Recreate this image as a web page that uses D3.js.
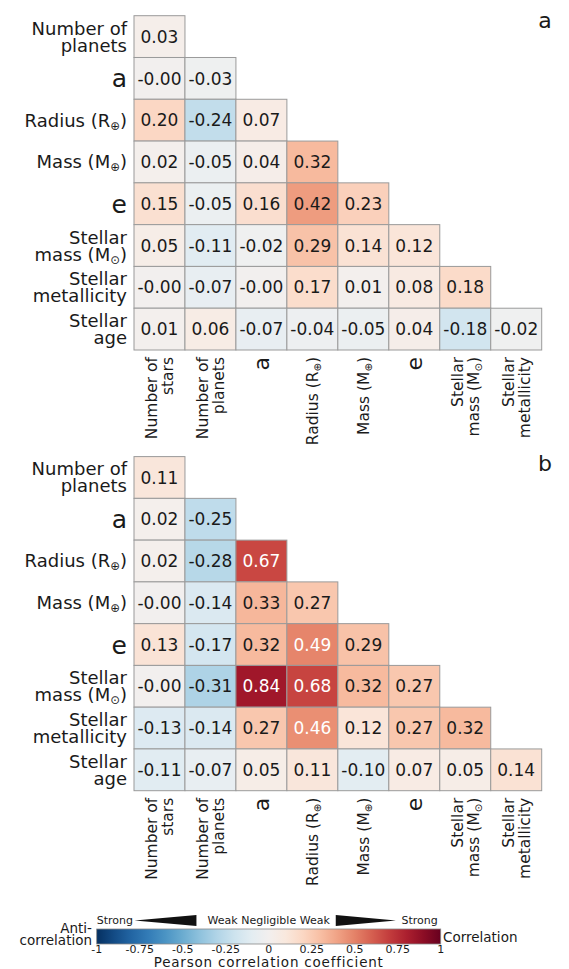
<!DOCTYPE html>
<html>
<head>
    <title>Correlation matrices</title>
    <style>
        body { margin: 0; background: #fff; }
        svg text { font-family: "DejaVu Sans", sans-serif; fill: #1a1a1a; }
        .cell { stroke: #9a9a9a; stroke-width: 1; }
        .val { font-size: 17px; }
        .rowlab { font-size: 18px; }
        .collab { font-size: 15.5px; }
        .panel { font-size: 22px; }
        .cb-small { font-size: 11px; }
        .cb-mid { font-size: 13.5px; }
    </style>
</head>
<body>
    <svg id="chart" width="569" height="969"></svg>

    <script src="https://d3js.org/d3.v7.min.js"></script>
    <script>
        // labels; {..} marks a subscript
        const rowLabels = [
            ["Number of", "planets"], ["a"], ["Radius (R{⊕})"], ["Mass (M{⊕})"],
            ["e"], ["Stellar", "mass (M{⊙})"], ["Stellar", "metallicity"], ["Stellar", "age"]
        ];
        const colLabels = [
            ["Number of", "stars"], ["Number of", "planets"], ["a"], ["Radius (R{⊕})"],
            ["Mass (M{⊕})"], ["e"], ["Stellar", "mass (M{⊙})"], ["Stellar", "metallicity"]
        ];

        // lower triangle, row by row (as printed)
        const valuesA = [
            ["0.03"],
            ["-0.00", "-0.03"],
            ["0.20", "-0.24", "0.07"],
            ["0.02", "-0.05", "0.04", "0.32"],
            ["0.15", "-0.05", "0.16", "0.42", "0.23"],
            ["0.05", "-0.11", "-0.02", "0.29", "0.14", "0.12"],
            ["-0.00", "-0.07", "-0.00", "0.17", "0.01", "0.08", "0.18"],
            ["0.01", "0.06", "-0.07", "-0.04", "-0.05", "0.04", "-0.18", "-0.02"]
        ];
        const valuesB = [
            ["0.11"],
            ["0.02", "-0.25"],
            ["0.02", "-0.28", "0.67"],
            ["-0.00", "-0.14", "0.33", "0.27"],
            ["0.13", "-0.17", "0.32", "0.49", "0.29"],
            ["-0.00", "-0.31", "0.84", "0.68", "0.32", "0.27"],
            ["-0.13", "-0.14", "0.27", "0.46", "0.12", "0.27", "0.32"],
            ["-0.11", "-0.07", "0.05", "0.11", "-0.10", "0.07", "0.05", "0.14"]
        ];

        const cbTicks = [-1, -0.75, -0.5, -0.25, 0, 0.25, 0.5, 0.75, 1];
        const cbTickLabels = ["-1", "-0.75", "-0.5", "-0.25", "0", "0.25", "0.5", "0.75", "1"];
        const wedgeLeft = [-0.78, -0.42];
        const wedgeRight = [0.39, 0.74];

        const svg = d3.select('#chart');
        const color = d3.scaleDiverging([1, 0, -1], d3.interpolateRdBu);

        const x = d3.scaleBand().domain(d3.range(8)).range([134, 541.7]);

        // one <text> per label; each line is a tspan, {..} becomes a subscript
        function addLabel(t, lines, x0, bigSize, gap) {
            lines.forEach((str, k) => {
                const off = lines.length === 1 ? 0 : (k === 0 ? -gap / 2 : gap / 2);
                const line = t.append('tspan')
                    .attr('x', x0)
                    .attr('y', off)
                    .attr('dy', '0.36em');
                if (str.length === 1) {
                    line.style('font-size', bigSize + 'px').text(str);
                    return;
                }
                str.split(/(\{[^}]*\})/).forEach(part => {
                    if (!part) return;
                    if (part[0] === '{') {
                        line.append('tspan')
                            .attr('baseline-shift', '-25%')
                            .style('font-size', '0.65em')
                            .text(part.slice(1, -1));
                    } else {
                        line.append('tspan').text(part);
                    }
                });
            });
        }

        function drawPanel(values, top, bottom, tag, tagY) {
            const y = d3.scaleBand().domain(d3.range(8)).range([top, bottom]);
            const g = svg.append('g');

            const cells = [];
            values.forEach((row, i) => row.forEach((s, j) => cells.push({ i, j, s, v: +s })));

            g.selectAll('rect.cell')
                .data(cells)
                .enter().append('rect')
                .attr('class', 'cell')
                .attr('x', d => x(d.j))
                .attr('y', d => y(d.i))
                .attr('width', x.bandwidth())
                .attr('height', y.bandwidth())
                .attr('fill', d => color(d.v));

            g.selectAll('text.val')
                .data(cells)
                .enter().append('text')
                .attr('class', 'val')
                .attr('x', d => x(d.j) + x.bandwidth() / 2)
                .attr('y', d => y(d.i) + y.bandwidth() / 2)
                .attr('dy', '0.36em')
                .attr('text-anchor', 'middle')
                .style('fill', d => d.v > 0.44 ? '#fff' : '#1a1a1a')
                .text(d => d.s);

            // row labels
            rowLabels.forEach((lines, i) => {
                const t = g.append('text')
                    .attr('class', 'rowlab')
                    .attr('transform', `translate(127,${y(i) + y.bandwidth() / 2})`)
                    .attr('text-anchor', 'end');
                addLabel(t, lines, 0, 25, 17);
            });

            // column labels (rotated)
            colLabels.forEach((lines, j) => {
                const t = g.append('text')
                    .attr('class', 'collab')
                    .attr('transform', `translate(${x(j) + x.bandwidth() / 2},${bottom + 7}) rotate(-90)`)
                    .attr('text-anchor', 'end');
                addLabel(t, lines, 0, 22, 16.5);
            });

            g.append('text')
                .attr('class', 'panel')
                .attr('x', 545)
                .attr('y', tagY)
                .attr('text-anchor', 'middle')
                .text(tag);
        }

        drawPanel(valuesA, 15.7, 350, 'a', 28);
        drawPanel(valuesB, 456.6, 790.7, 'b', 471);

        // colour bar
        const cx = d3.scaleLinear().domain([-1, 1]).range([96.7, 440.7]);
        const cb = svg.append('g');
        const grad = svg.append('defs').append('linearGradient')
            .attr('id', 'cbgrad').attr('x1', '0%').attr('x2', '100%');
        d3.range(0, 21).forEach(k => {
            const v = -1 + k * 0.1;
            grad.append('stop').attr('offset', (k * 5) + '%').attr('stop-color', color(v));
        });
        cb.append('rect')
            .attr('x', cx(-1)).attr('y', 929)
            .attr('width', cx(1) - cx(-1)).attr('height', 15)
            .attr('fill', 'url(#cbgrad)')
            .attr('stroke', '#888').attr('stroke-width', 0.8);

        cb.selectAll('text.tick')
            .data(cbTicks)
            .enter().append('text')
            .attr('class', 'cb-small')
            .attr('x', d => cx(d))
            .attr('y', 953)
            .attr('text-anchor', 'middle')
            .text((d, i) => cbTickLabels[i]);

        cb.append('text')
            .attr('x', cx(0)).attr('y', 967)
            .attr('text-anchor', 'middle')
            .style('font-size', '13.5px')
            .style('letter-spacing', '0.8px')
            .text('Pearson correlation coefficient');

        const anti = cb.append('text').attr('class', 'cb-mid').attr('text-anchor', 'end');
        anti.append('tspan').attr('x', 92).attr('y', 932.5).text('Anti-');
        anti.append('tspan').attr('x', 92).attr('y', 945).text('correlation');
        cb.append('text').attr('class', 'cb-mid')
            .attr('x', 443).attr('y', 942).text('Correlation');

        // strength hints above the bar
        cb.append('text').attr('class', 'cb-small')
            .attr('x', cx(-1)).attr('y', 924).text('Strong');
        cb.append('text').attr('class', 'cb-small')
            .attr('x', cx(1) - 3).attr('y', 924).attr('text-anchor', 'end').text('Strong');
        cb.append('text').attr('class', 'cb-small')
            .attr('x', cx(0)).attr('y', 924).attr('text-anchor', 'middle').text('Weak Negligible Weak');
        cb.append('path')
            .attr('d', `M${cx(wedgeLeft[0])},920.5 L${cx(wedgeLeft[1])},915 L${cx(wedgeLeft[1])},926 Z`)
            .attr('fill', '#111');
        cb.append('path')
            .attr('d', `M${cx(wedgeRight[1])},920.5 L${cx(wedgeRight[0])},915 L${cx(wedgeRight[0])},926 Z`)
            .attr('fill', '#111');
    </script>
</body>
</html>
